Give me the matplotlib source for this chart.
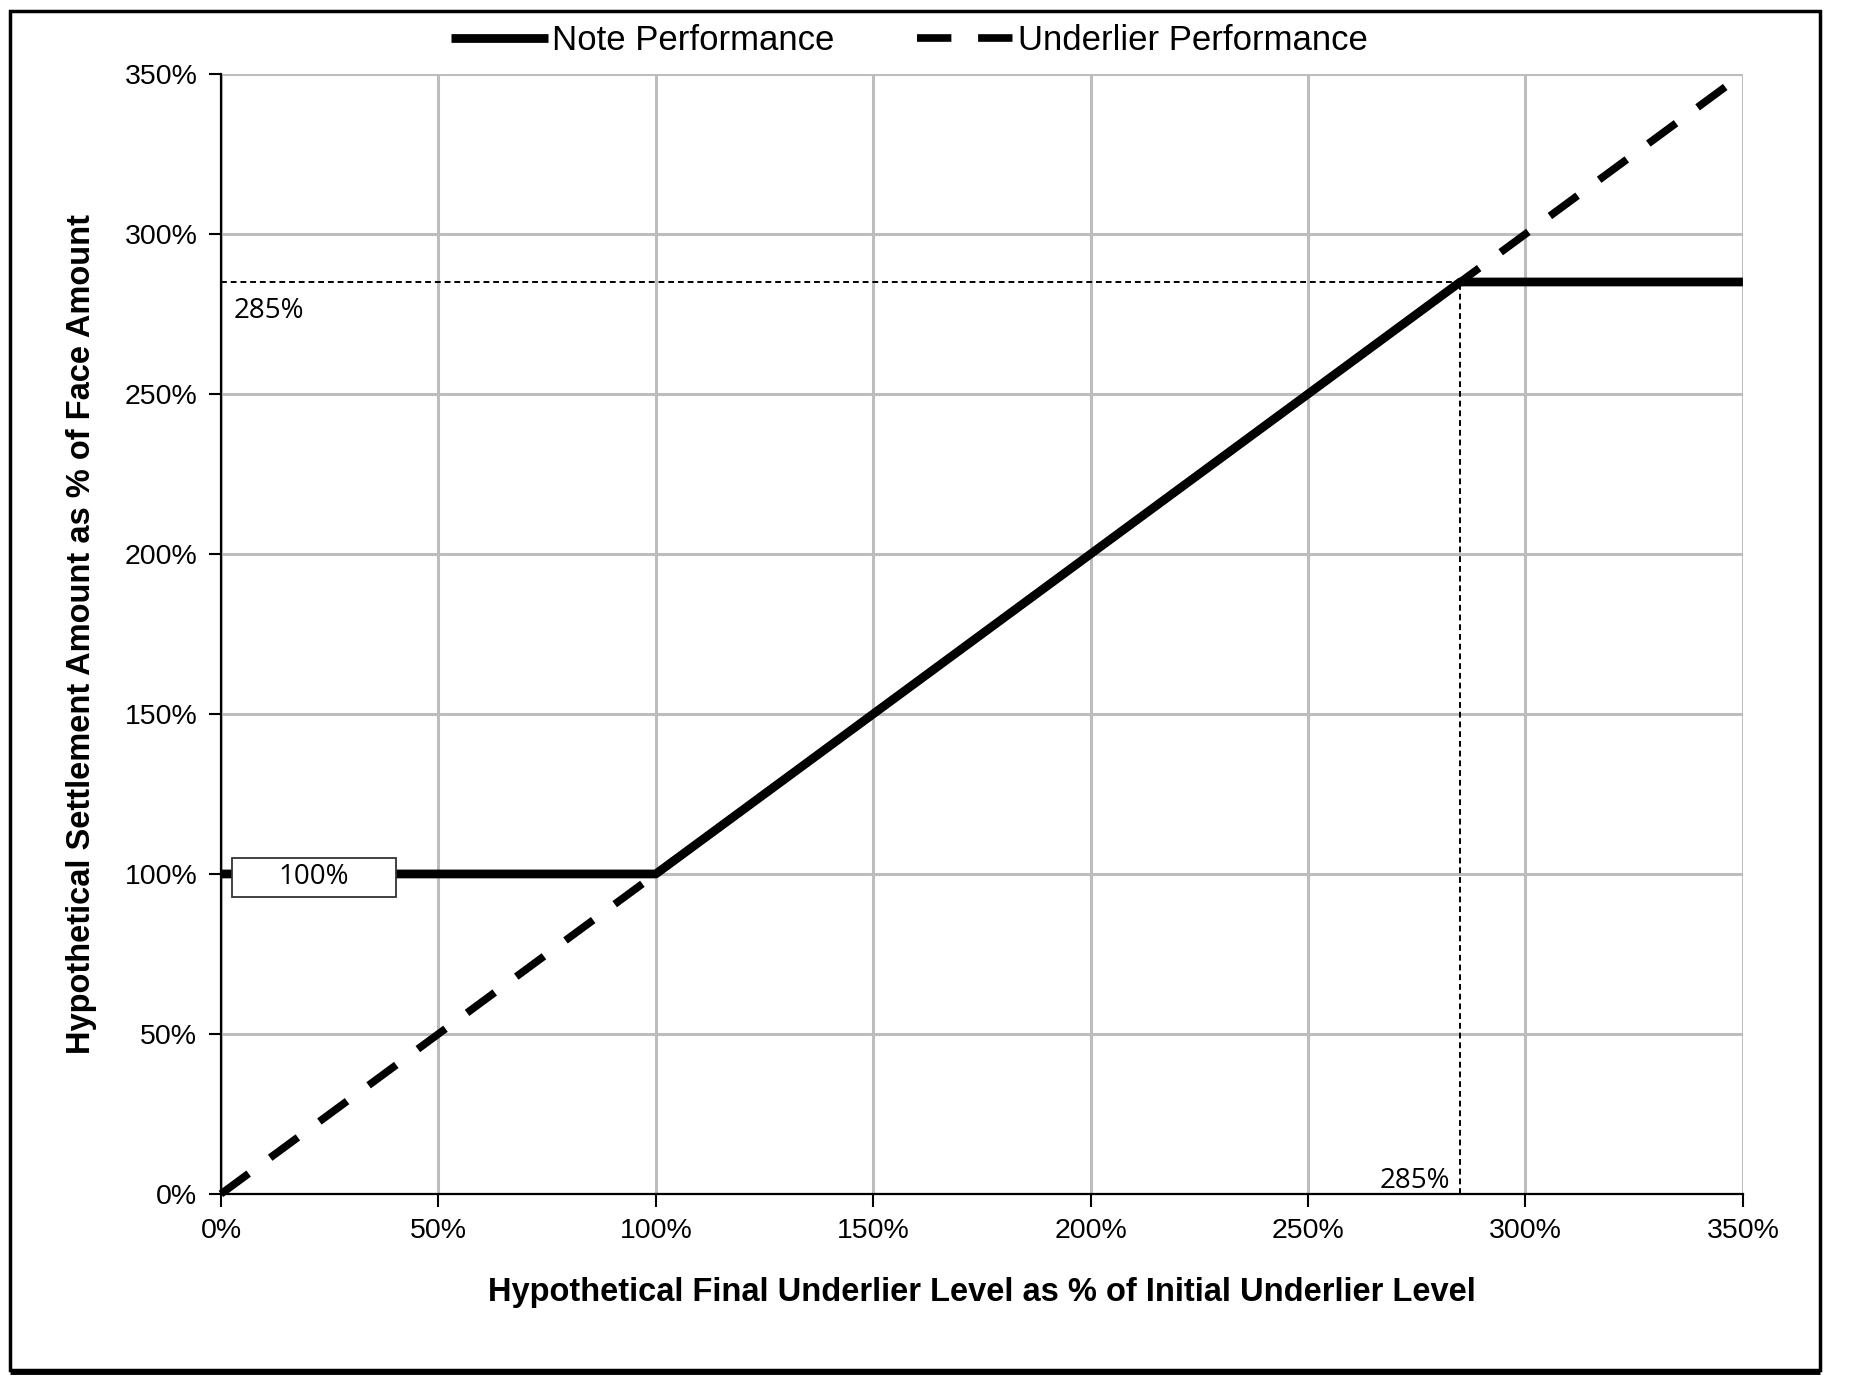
import matplotlib.pyplot as plt
from matplotlib.patches import Rectangle
from matplotlib.ticker import FuncFormatter, MultipleLocator

# Data (percent)
note_x = [0, 100, 285, 350]
note_y = [100, 100, 285, 285]
under_x = [0, 350]
under_y = [0, 350]
cap_level = 285
floor_level = 100

fig = plt.figure(figsize=(18.52, 13.88), dpi=100)
ax = fig.add_axes([0.1193, 0.1398, 0.8218, 0.8069])

# Gridlines
ax.set_xlim(0, 350)
ax.set_ylim(0, 350)
ax.xaxis.set_major_locator(MultipleLocator(50))
ax.yaxis.set_major_locator(MultipleLocator(50))
ax.grid(True, color="#bdbdbd", lw=2.2, zorder=0)
ax.set_axisbelow(True)

# Reference lines for cap
ax.plot([0, cap_level], [cap_level, cap_level], color="k", lw=1.4,
        dashes=(3, 2), zorder=2)
ax.plot([cap_level, cap_level], [0, cap_level], color="k", lw=1.4,
        dashes=(3, 2), zorder=2)

# Series
ax.plot(under_x, under_y, color="k", lw=5.5, dashes=(4.5, 3.5),
        solid_capstyle="butt", label="Underlier Performance", zorder=3,
        clip_on=False)
ax.plot(note_x, note_y, color="k", lw=6.3, label="Note Performance", zorder=4,
        solid_capstyle="butt")

# Annotations
ax.add_patch(Rectangle((2.5, 92.8), 37.7, 12.3, facecolor="white",
                       edgecolor="#333333", lw=1.3, zorder=5))
ax.text(21.3, 99, "100%", ha="center", va="center", fontsize=20,
        family="Open Sans", zorder=6)
ax.text(3.0, 276, "285%", ha="left", va="center", fontsize=20,
        family="Open Sans", zorder=6)
ax.text(282.6, 4.2, "285%", ha="right", va="center", fontsize=20,
        family="Open Sans", zorder=6)

# Axes styling
for s in ["top", "right"]:
    ax.spines[s].set_visible(False)
for s in ["left", "bottom"]:
    ax.spines[s].set_linewidth(1.6)
    ax.spines[s].set_zorder(7)
pct = FuncFormatter(lambda v, p: f"{v:.0f}%")
ax.xaxis.set_major_formatter(pct)
ax.yaxis.set_major_formatter(pct)
ax.tick_params(axis="both", direction="out", length=9, width=1.5,
               labelsize=20.5, pad=8)
for lbl in ax.get_xticklabels() + ax.get_yticklabels():
    lbl.set_family("Liberation Sans")

ax.set_xlabel("Hypothetical Final Underlier Level as % of Initial Underlier Level",
              fontsize=23.5, fontweight="bold", family="Liberation Sans", labelpad=24)
ax.set_ylabel("Hypothetical Settlement Amount as % of Face Amount",
              fontsize=23.5, fontweight="bold", family="Liberation Sans", labelpad=20)

# Legend above plot
h, l = ax.get_legend_handles_labels()
leg = fig.legend(h[::-1], l[::-1], loc="center", bbox_to_anchor=(0.491, 0.9705),
                 ncol=2, frameon=False, handlelength=2.8,
                 handletextpad=0.1, columnspacing=2.4,
                 prop={"family": "Liberation Sans", "size": 25})

# Outer border
fig.patches.append(Rectangle((0.0055, 0.013), 0.977, 0.979, transform=fig.transFigure,
                             fill=False, edgecolor="k", lw=2.5))
fig.patches.append(Rectangle((0.0055, 0.0115), 0.977, 0.0, transform=fig.transFigure,
                             fill=False, edgecolor="k", lw=3.5))

fig.savefig("out.png", dpi=100)
